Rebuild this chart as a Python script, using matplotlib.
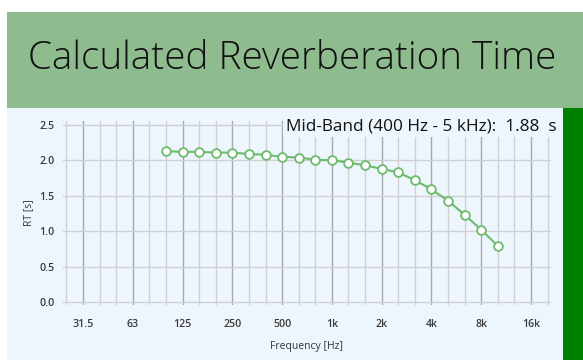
import numpy as np
import matplotlib
matplotlib.use("Agg")
import matplotlib.pyplot as plt
from matplotlib.patches import Rectangle

# ---- data ----
band_labels = ["25", "31.5", "40", "50", "63", "80", "100", "125", "160", "200",
               "250", "315", "400", "500", "630", "800", "1k", "1.25k", "1.6k", "2k",
               "2.5k", "3.15k", "4k", "5k", "6.3k", "8k", "10k", "12.5k", "16k", "20k"]
octave_labels = ["31.5", "63", "125", "250", "500", "1k", "2k", "4k", "8k", "16k"]
data_bands = ["100", "125", "160", "200", "250", "315", "400", "500", "630", "800",
              "1k", "1.25k", "1.6k", "2k", "2.5k", "3.15k", "4k", "5k", "6.3k", "8k", "10k"]
rt_values = [2.13, 2.12, 2.12, 2.11, 2.11, 2.09, 2.08, 2.05, 2.04, 2.01,
             2.00, 1.97, 1.93, 1.88, 1.83, 1.72, 1.59, 1.43, 1.23, 1.02, 0.79]
y_ticks = [0.0, 0.5, 1.0, 1.5, 2.0, 2.5]
mid_band = ["400", "500", "630", "800", "1k", "1.25k", "1.6k", "2k", "2.5k", "3.15k", "4k", "5k"]

title = "Calculated Reverberation Time"
xlabel = "Frequency [Hz]"
ylabel = "RT [s]"

# ---- figure ----
W, H = 583, 360
fig = plt.figure(figsize=(W / 100, H / 100), dpi=100, facecolor="white")

def fx(x):
    return x / W

def fy(y):
    return (H - y) / H

def rect(x0, y0, x1, y1, color):
    fig.add_artist(Rectangle((fx(x0), fy(y1)), fx(x1) - fx(x0), fy(y0) - fy(y1),
                             transform=fig.transFigure, facecolor=color,
                             edgecolor="none", zorder=-10))

HEADER = "#8fbc8f"
PANEL = "#eef6fd"
DARK = "#008000"
LINE = "#6dbb6d"

rect(7, 12, 583, 108, HEADER)
rect(7, 108, 563, 360, PANEL)
rect(563, 108, 583, 360, DARK)

fig.text(fx(292), fy(69), title, ha="center", va="baseline",
         fontsize=27.8, fontweight="light", family=["Open Sans", "Lato", "DejaVu Sans"],
         color="#111111")

# axes
ax = fig.add_axes([fx(63), fy(305), fx(551) - fx(63), fy(121) - fy(305)])
ax.set_facecolor("none")
idx = {b: i for i, b in enumerate(band_labels)}
xs = [idx[b] for b in data_bands]

ax.set_xlim(-0.2, 29.2)
ax.set_ylim(-0.042, 2.556)

for i, b in enumerate(band_labels):
    major = b in octave_labels
    ax.axvline(i, color="#a8a8a8" if major else "#d0d0d0", lw=1.0, zorder=1)
for y in y_ticks:
    ax.axhline(y, color="#d0d0d0", lw=1.0, zorder=1)

ax.plot(xs, rt_values, color=LINE, lw=1.5, marker="o", markersize=6.3,
        markerfacecolor="white", markeredgecolor=LINE, markeredgewidth=1.3, zorder=3)

ax.set_xticks([idx[b] for b in octave_labels])
ax.set_xticklabels(octave_labels)
ax.set_yticks(y_ticks)
ax.set_yticklabels([f"{v:.1f}" for v in y_ticks])
for lab in ax.get_xticklabels() + ax.get_yticklabels():
    lab.set_fontsize(7.7)
    lab.set_color("#3a3a3a")
    lab.set_fontfamily(["Open Sans", "DejaVu Sans"])
    lab.set_fontweight(600)
ax.tick_params(axis="both", length=0)
ax.tick_params(axis="x", pad=10)
ax.tick_params(axis="y", pad=6)
for s in ax.spines.values():
    s.set_visible(False)

fig.text(fx(306), fy(347), xlabel, ha="center", va="center", fontsize=7.5,
         family=["Open Sans", "DejaVu Sans"], color="#333333")
fig.text(fx(29), fy(213), ylabel, ha="center", va="center", rotation=90, fontsize=7.5,
         family=["Open Sans", "DejaVu Sans"], color="#333333")

mid_vals = [rt_values[data_bands.index(b)] for b in mid_band]
mid_mean = np.mean(mid_vals)
fig.text(fx(557), fy(130), f"Mid-Band (400 Hz - 5 kHz):  {mid_mean:.2f}  s",
         ha="right", va="baseline", fontsize=12.4, family=["Open Sans", "DejaVu Sans"],
         color="#111111", zorder=5,
         bbox=dict(facecolor=PANEL, edgecolor="none", pad=2.5))

fig.savefig("out.png", dpi=100, facecolor="white")
